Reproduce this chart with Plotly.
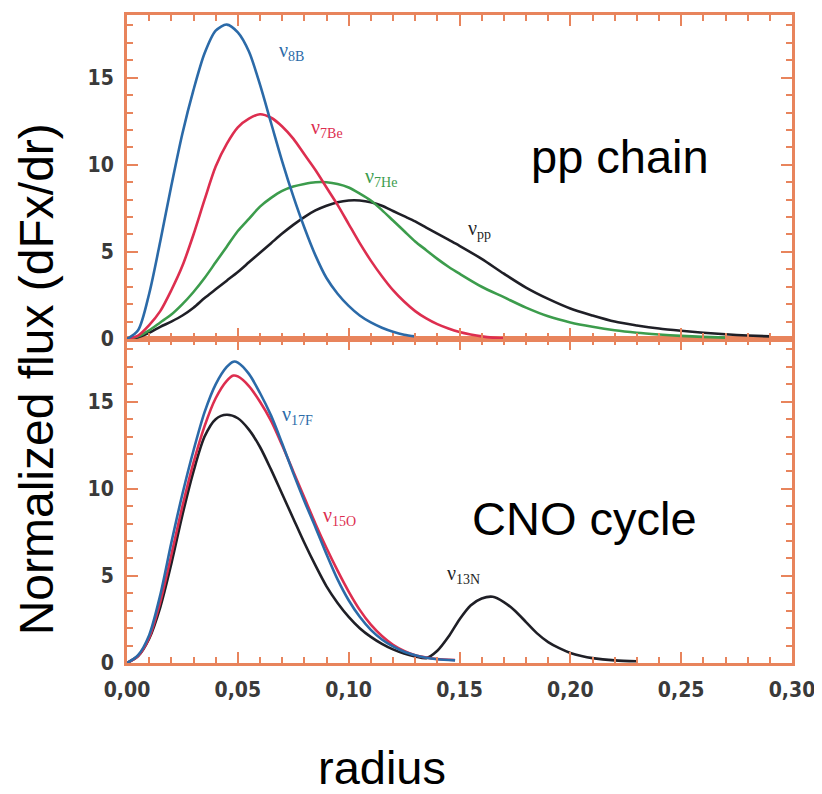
import plotly.graph_objects as go

# ---------------- data ----------------
# top panel: pp chain
r_8B = [0, 0.005, 0.01, 0.015, 0.02, 0.025, 0.03, 0.035, 0.04, 0.045, 0.05, 0.055, 0.06, 0.065,
        0.07, 0.075, 0.08, 0.085, 0.09, 0.095, 0.10, 0.105, 0.11, 0.115, 0.12, 0.125, 0.13]
f_8B = [0, 0.5, 2.6, 5.6, 8.8, 11.8, 14.3, 16.4, 17.7, 18.05, 17.6, 16.5, 14.6, 12.4,
        10.2, 8.2, 6.4, 4.8, 3.5, 2.6, 1.9, 1.35, 0.95, 0.65, 0.42, 0.25, 0.15]

r_7Be = [0, 0.005, 0.01, 0.015, 0.02, 0.025, 0.03, 0.035, 0.04, 0.045, 0.05, 0.055, 0.06, 0.065,
         0.07, 0.075, 0.08, 0.085, 0.09, 0.095, 0.10, 0.105, 0.11, 0.115, 0.12, 0.125, 0.13,
         0.135, 0.14, 0.145, 0.15, 0.155, 0.16, 0.165, 0.17]
f_7Be = [0, 0.2, 0.8, 1.6, 2.8, 4.2, 6.0, 8.0, 9.9, 11.2, 12.15, 12.65, 12.9, 12.7,
         12.2, 11.5, 10.6, 9.7, 8.7, 7.7, 6.6, 5.5, 4.5, 3.6, 2.8, 2.15, 1.6,
         1.18, 0.85, 0.6, 0.4, 0.26, 0.15, 0.08, 0.05]

r_7He = [0, 0.005, 0.01, 0.015, 0.02, 0.025, 0.03, 0.035, 0.04, 0.045, 0.05, 0.055, 0.06, 0.065,
         0.07, 0.075, 0.08, 0.085, 0.09, 0.095, 0.10, 0.105, 0.11, 0.115, 0.12, 0.125, 0.13,
         0.135, 0.14, 0.145, 0.15, 0.16, 0.17, 0.18, 0.19, 0.20, 0.21, 0.22, 0.23, 0.24, 0.25,
         0.26, 0.27]
f_7He = [0, 0.15, 0.5, 0.95, 1.4, 2.0, 2.7, 3.5, 4.4, 5.3, 6.2, 6.9, 7.6, 8.1,
         8.5, 8.75, 8.9, 9.0, 9.0, 8.9, 8.7, 8.35, 7.95, 7.4, 6.8, 6.2, 5.6,
         5.1, 4.6, 4.15, 3.75, 3.0, 2.4, 1.8, 1.3, 0.95, 0.7, 0.5, 0.36, 0.26, 0.18,
         0.12, 0.08]

r_pp = [0, 0.005, 0.01, 0.015, 0.02, 0.025, 0.03, 0.035, 0.04, 0.045, 0.05, 0.055, 0.06, 0.065,
        0.07, 0.075, 0.08, 0.085, 0.09, 0.095, 0.10, 0.105, 0.11, 0.115, 0.12, 0.125, 0.13,
        0.135, 0.14, 0.145, 0.15, 0.16, 0.17, 0.18, 0.19, 0.20, 0.21, 0.22, 0.23, 0.24, 0.25,
        0.26, 0.27, 0.28, 0.29]
f_pp = [0, 0.1, 0.35, 0.7, 1.0, 1.35, 1.8, 2.35, 2.85, 3.35, 3.85, 4.4, 4.95, 5.5,
        6.05, 6.55, 7.0, 7.38, 7.65, 7.85, 7.95, 7.95, 7.85, 7.65, 7.35, 7.05, 6.75,
        6.4, 6.05, 5.7, 5.35, 4.6, 3.75, 2.95, 2.3, 1.75, 1.35, 1.0, 0.78, 0.6, 0.47,
        0.36, 0.27, 0.2, 0.15]

# bottom panel: CNO cycle
r_17F = [0, 0.005, 0.01, 0.015, 0.02, 0.025, 0.03, 0.035, 0.04, 0.045, 0.048, 0.05, 0.055, 0.06,
         0.065, 0.07, 0.075, 0.08, 0.085, 0.09, 0.095, 0.10, 0.105, 0.11, 0.115, 0.12, 0.125,
         0.13, 0.135, 0.14, 0.148]
f_17F = [0, 0.45, 1.6, 3.9, 6.9, 9.7, 12.2, 14.4, 16.0, 17.0, 17.3, 17.25, 16.6, 15.5,
         14.2, 12.6, 10.9, 9.3, 7.8, 6.25, 4.8, 3.6, 2.65, 1.9, 1.35, 0.95, 0.65,
         0.45, 0.3, 0.22, 0.15]

r_15O = [0, 0.005, 0.01, 0.015, 0.02, 0.025, 0.03, 0.035, 0.04, 0.045, 0.048, 0.05, 0.055, 0.06,
         0.065, 0.07, 0.075, 0.08, 0.085, 0.09, 0.095, 0.10, 0.105, 0.11, 0.115, 0.12, 0.125,
         0.13, 0.135, 0.14, 0.148]
f_15O = [0, 0.4, 1.45, 3.5, 6.2, 9.0, 11.5, 13.6, 15.2, 16.2, 16.5, 16.45, 15.9, 15.0,
         13.9, 12.5, 11.0, 9.5, 8.0, 6.6, 5.3, 4.1, 3.05, 2.2, 1.55, 1.05, 0.7,
         0.45, 0.32, 0.23, 0.17]

r_13N = [0, 0.005, 0.01, 0.015, 0.02, 0.025, 0.03, 0.035, 0.04, 0.045, 0.05, 0.055, 0.06, 0.065,
         0.07, 0.075, 0.08, 0.085, 0.09, 0.095, 0.10, 0.105, 0.11, 0.115, 0.12, 0.125, 0.13,
         0.135, 0.14, 0.145, 0.15, 0.155, 0.16, 0.165, 0.17, 0.175, 0.18, 0.185, 0.19, 0.195,
         0.20, 0.205, 0.21, 0.22, 0.23]
f_13N = [0, 0.4, 1.4, 3.2, 5.7, 8.5, 11.0, 13.0, 14.0, 14.25, 14.05, 13.4, 12.4, 11.1,
         9.7, 8.3, 6.9, 5.6, 4.4, 3.45, 2.65, 2.0, 1.5, 1.1, 0.78, 0.54, 0.38,
         0.28, 0.7, 1.5, 2.5, 3.3, 3.7, 3.8, 3.5, 3.0, 2.35, 1.7, 1.2, 0.85,
         0.58, 0.4, 0.28, 0.15, 0.1]

x_tickvals = [0, 0.05, 0.10, 0.15, 0.20, 0.25, 0.30]
x_ticktext = ["0,00", "0,05", "0,10", "0,15", "0,20", "0,25", "0,30"]
y_tickvals = [0, 5, 10, 15]
y_ticktext = ["0", "5", "10", "15"]

# ---------------- styling ----------------
BLUE = "#2b6aa8"
RED = "#dd2e4f"
GREEN = "#3c9c4c"
BLACK = "#1f1f26"
ORANGE = "#e8845c"
TICKFONT = dict(family="DejaVu Sans Condensed, Liberation Sans Narrow, Roboto, Arial",
                size=21, color="#3a3a3a", weight="bold")
LW = 2.6

fig = go.Figure()

def add(x, y, color, xa, ya):
    fig.add_trace(go.Scatter(x=x, y=y, mode="lines", line=dict(color=color, width=LW, shape="spline", smoothing=0.8),
                             xaxis=xa, yaxis=ya, showlegend=False, hoverinfo="skip"))

add(r_pp, f_pp, BLACK, "x2", "y2")
add(r_7He, f_7He, GREEN, "x2", "y2")
add(r_7Be, f_7Be, RED, "x2", "y2")
add(r_8B, f_8B, BLUE, "x2", "y2")

add(r_13N, f_13N, BLACK, "x", "y")
add(r_15O, f_15O, RED, "x", "y")
add(r_17F, f_17F, BLUE, "x", "y")

def xaxis(show_labels, anchor):
    return dict(range=[0, 0.30], anchor=anchor, domain=[0, 1],
                tickmode="array", tickvals=x_tickvals, ticktext=x_ticktext,
                showticklabels=show_labels, tickfont=TICKFONT, ticklabelstandoff=6,
                showline=True, linecolor=ORANGE, linewidth=3, mirror="ticks",
                ticks="inside", ticklen=11, tickwidth=2, tickcolor=ORANGE,
                minor=dict(ticks="inside", ticklen=6, tickwidth=2, tickcolor=ORANGE,
                           dtick=0.01, tick0=0, showgrid=False),
                showgrid=False, zeroline=False, fixedrange=True)

def yaxis(domain, anchor):
    return dict(range=[0, 18.6], anchor=anchor, domain=domain,
                tickmode="array", tickvals=y_tickvals, ticktext=y_ticktext,
                tickfont=TICKFONT, ticklabelstandoff=6,
                showline=True, linecolor=ORANGE, linewidth=3, mirror="ticks",
                ticks="inside", ticklen=11, tickwidth=2, tickcolor=ORANGE,
                minor=dict(ticks="inside", ticklen=6, tickwidth=2, tickcolor=ORANGE,
                           dtick=1, tick0=0, showgrid=False),
                showgrid=False, zeroline=False, fixedrange=True)

# page body has an 8px margin -> plot area placed so it lands at x 127..792, y 12..663 on the page
fig.update_layout(
    width=822, height=794, autosize=False,
    margin=dict(l=119, r=38, t=4, b=139),
    paper_bgcolor="white", plot_bgcolor="white",
    xaxis=xaxis(True, "y"),
    yaxis=yaxis([0, 0.5], "x"),
    xaxis2=xaxis(False, "y2"),
    yaxis2=yaxis([0.5, 1], "x2"),
)

LBL = "Liberation Serif, DejaVu Serif, serif"
def lab(text, x, y, color, xr, yr):
    fig.add_annotation(text=text, x=x, y=y, xref=xr, yref=yr, showarrow=False,
                       font=dict(family=LBL, size=20, color=color), xanchor="center", yanchor="middle")

lab("ν<sub>8B</sub>", 0.074, 16.5, BLUE, "x2", "y2")
lab("ν<sub>7Be</sub>", 0.090, 12.1, RED, "x2", "y2")
lab("ν<sub>7He</sub>", 0.1146, 9.3, GREEN, "x2", "y2")
lab("ν<sub>pp</sub>", 0.159, 6.3, BLACK, "x2", "y2")
lab("ν<sub>17F</sub>", 0.077, 14.2, BLUE, "x", "y")
lab("ν<sub>15O</sub>", 0.096, 8.4, RED, "x", "y")
lab("ν<sub>13N</sub>", 0.152, 5.1, BLACK, "x", "y")

BIG = dict(family="Liberation Sans, Arial, sans-serif", size=47, color="black")
fig.add_annotation(text="pp chain", x=0.2224, y=10.5, xref="x2", yref="y2", showarrow=False,
                   font=BIG, xanchor="center", yanchor="middle")
fig.add_annotation(text="CNO cycle", x=0.2066, y=8.3, xref="x", yref="y", showarrow=False,
                   font=BIG, xanchor="center", yanchor="middle")
# paper coordinates: plot area spans x 127..792 and y 12..663 on the page
fig.add_annotation(text="radius", x=(382 - 127) / 665, y=(663 - 768) / 651, xref="paper", yref="paper",
                   showarrow=False, font=BIG, xanchor="center", yanchor="middle")
fig.add_annotation(text="Normalized flux (dFx/dr)", x=(36 - 127) / 665, y=(663 - 378) / 651,
                   xref="paper", yref="paper", showarrow=False, textangle=-90,
                   font=dict(family="Liberation Sans, Arial, sans-serif", size=48, color="black"),
                   xanchor="center", yanchor="middle")

fig.write_html("out.html")
